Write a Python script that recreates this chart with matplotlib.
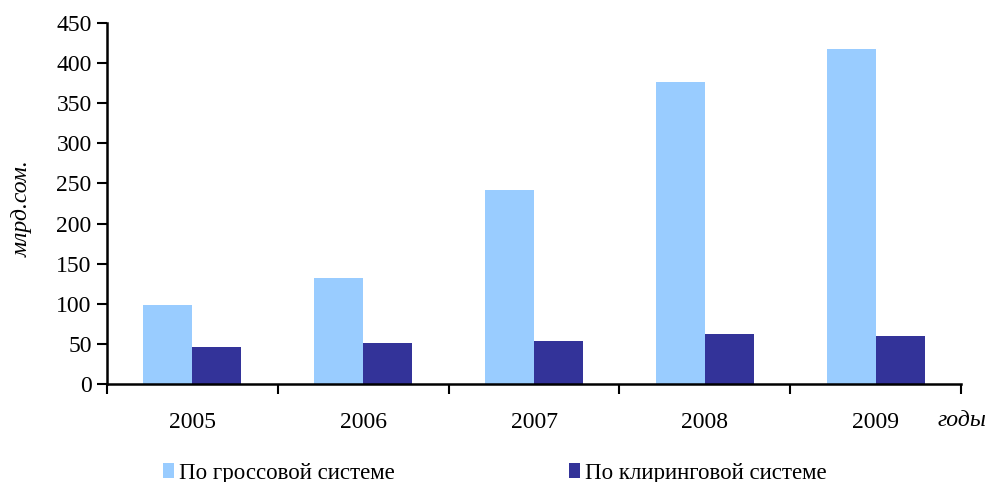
import numpy as np
import matplotlib
matplotlib.use('Agg')
import matplotlib.pyplot as plt
from matplotlib.patches import Patch

plt.rcParams['font.family'] = ['Liberation Serif', 'DejaVu Serif']

# data
years = ['2005', '2006', '2007', '2008', '2009']
gross = [98, 132, 242, 377, 418]
clearing = [46, 51, 54, 62, 60]
series_names = ['По гроссовой системе', 'По клиринговой системе']
colors = ['#99CCFF', '#333399']

fig = plt.figure(figsize=(9.89, 4.82), dpi=100)
ax = fig.add_axes([0.1082, 0.2033, 0.8635, 0.749])

x = np.arange(len(years))
w = 0.287
ax.bar(x - w/2, gross, width=w, color=colors[0], linewidth=0)
ax.bar(x + w/2, clearing, width=w, color=colors[1], linewidth=0)

ax.set_xlim(-0.5, len(years) - 0.5)
ax.set_ylim(0, 450)
ax.set_yticks(np.arange(0, 451, 50))

# category ticks sit between groups, labels centred
ax.set_xticks(np.arange(-0.5, len(years), 1.0))
ax.set_xticklabels([])
ax.set_xticks(x, minor=True)
ax.set_xticklabels(years, minor=True)
ax.tick_params(axis='x', which='minor', length=0, pad=20, labelsize=17)
ax.tick_params(axis='x', which='major', length=7, width=1.5, direction='out')
ax.tick_params(axis='y', length=7, width=1.5, direction='out', labelsize=17, pad=4)

for side in ['top', 'right']:
    ax.spines[side].set_visible(False)
for side in ['left', 'bottom']:
    ax.spines[side].set_linewidth(1.8)

fig.text(0.022, 0.568, 'млрд.сом.', rotation=90, style='italic', fontsize=17,
         ha='center', va='center')
fig.text(0.997, 0.128, 'годы', style='italic', fontsize=17, ha='right', va='center')

handles = [Patch(facecolor=c, edgecolor='none') for c in colors]
fig.legend(handles, series_names, loc='center left', bbox_to_anchor=(163/989, 0.018),
           ncol=2, frameon=False, fontsize=16.5, handlelength=0.5, handleheight=0.6,
           handletextpad=0.2, columnspacing=7.6, borderpad=0, borderaxespad=0)

fig.savefig('out.png', dpi=100)
